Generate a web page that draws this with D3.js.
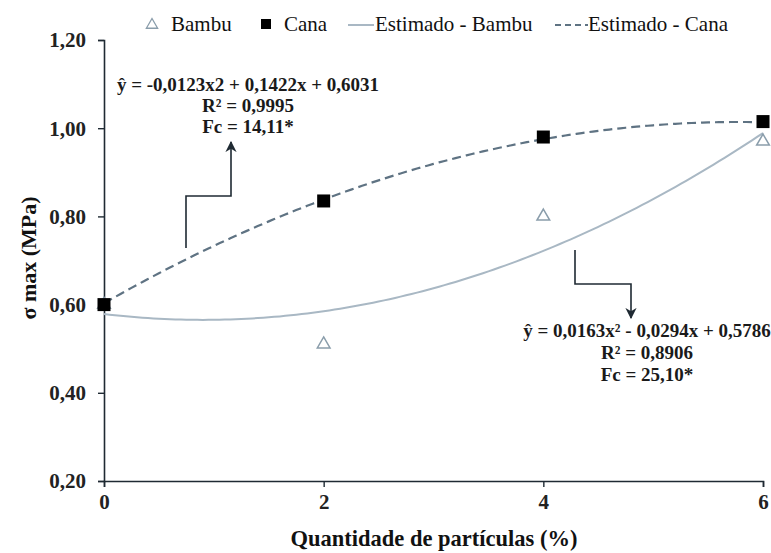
<!DOCTYPE html>
<html>
<head>
<meta charset="utf-8">
<script src="https://cdn.jsdelivr.net/npm/d3@7"></script>
<style>
  html, body { margin: 0; padding: 0; background: #fff; }
  svg text { font-family: "Liberation Serif", "DejaVu Serif", serif; }
</style>
</head>
<body>
<svg id="chart" width="771" height="553"></svg>
<script>
// Particle content (%) and measured maximum stress (MPa)
const xValues = [0, 2, 4, 6];
const bambuValues = [0.60, 0.51, 0.80, 0.97];
const canaValues = [0.60, 0.835, 0.98, 1.015];

// Quadratic fits: [a, b, c] for y = a·x² + b·x + c
const bambuFit = [0.0163, -0.0294, 0.5786];
const canaFit = [-0.0123, 0.1422, 0.6031];

const xTicks = [0, 2, 4, 6];
const yTicks = [0.20, 0.40, 0.60, 0.80, 1.00, 1.20];

const bambuEq = ["ŷ = 0,0163x² - 0,0294x + 0,5786", "R² = 0,8906", "Fc = 25,10*"];
const canaEq = ["ŷ = -0,0123x2 + 0,1422x + 0,6031", "R² = 0,9995", "Fc = 14,11*"];

const SERIF = "Liberation Serif";
const svg = d3.select("#chart");

const x = d3.scaleLinear().domain([0, 6]).range([104, 763]);
const y = d3.scaleLinear().domain([0.2, 1.2]).range([481, 40]);

const fmt = d => d.toFixed(2).replace(".", ",");
const axisColor = "#1f2a33";

// Axes
const gx = svg.append("g").attr("transform", `translate(0,${y(0.2)})`)
  .call(d3.axisBottom(x).tickValues(xTicks).tickSize(6).tickPadding(7).tickFormat(d => d));
const gy = svg.append("g").attr("transform", `translate(${x(0)},0)`)
  .call(d3.axisLeft(y).tickValues(yTicks).tickSize(6).tickPadding(12).tickFormat(fmt));
[gx, gy].forEach(g => {
  g.attr("font-family", SERIF);
  g.select(".domain").attr("stroke", axisColor).attr("stroke-width", 1.6);
  g.selectAll(".tick line").attr("stroke", axisColor).attr("stroke-width", 1.4);
  g.selectAll(".tick text").attr("fill", "#222").attr("font-family", SERIF)
    .attr("font-size", 21).attr("font-weight", "bold");
});
gy.selectAll(".tick text").attr("dy", "0.33em");

// Axis titles
svg.append("text").attr("x", 434).attr("y", 546).attr("text-anchor", "middle")
  .attr("font-family", SERIF).attr("font-size", 22.5).attr("font-weight", "bold").attr("fill", "#111")
  .text("Quantidade de partículas (%)");
svg.append("text").attr("transform", "translate(36,258) rotate(-90)").attr("text-anchor", "middle")
  .attr("font-family", SERIF).attr("font-size", 22).attr("font-weight", "bold").attr("fill", "#111")
  .text("σ max (MPa)");

// Fitted curves
const evalFit = (c, t) => c[0] * t * t + c[1] * t + c[2];
const samples = d3.range(0, 6.0001, 0.05);
const line = d3.line().x(d => x(d[0])).y(d => y(d[1]));

svg.append("path").datum(samples.map(t => [t, evalFit(bambuFit, t)]))
  .attr("d", line).attr("fill", "none").attr("stroke", "#a9b8c4").attr("stroke-width", 2);
svg.append("path").datum(samples.map(t => [t, evalFit(canaFit, t)]))
  .attr("d", line).attr("fill", "none").attr("stroke", "#5f7383").attr("stroke-width", 2.2)
  .attr("stroke-dasharray", "9,5");

// Markers
const tri = d3.symbol().type(d3.symbolTriangle).size(70);
svg.append("g").selectAll("path").data(xValues.map((v, i) => [v, bambuValues[i]])).join("path")
  .attr("d", tri).attr("transform", d => `translate(${x(d[0])},${y(d[1])})`)
  .attr("fill", "none").attr("stroke", "#8a9dab").attr("stroke-width", 1.5);
svg.append("g").selectAll("rect").data(xValues.map((v, i) => [v, canaValues[i]])).join("rect")
  .attr("x", d => x(d[0]) - 6.5).attr("y", d => y(d[1]) - 6.5).attr("width", 13).attr("height", 13)
  .attr("fill", "#000");

// Legend
const lg = svg.append("g").attr("font-family", SERIF).attr("font-size", 21).attr("fill", "#111");
lg.append("path").attr("d", d3.symbol().type(d3.symbolTriangle).size(55)()).attr("transform", "translate(152,25)")
  .attr("fill", "none").attr("stroke", "#8a9dab").attr("stroke-width", 1.3);
lg.append("text").attr("x", 171).attr("y", 31).text("Bambu");
lg.append("rect").attr("x", 261).attr("y", 19).attr("width", 10).attr("height", 10).attr("fill", "#000");
lg.append("text").attr("x", 284).attr("y", 31).text("Cana");
lg.append("line").attr("x1", 348).attr("x2", 374).attr("y1", 25).attr("y2", 25)
  .attr("stroke", "#a9b8c4").attr("stroke-width", 2);
lg.append("text").attr("x", 375).attr("y", 31).text("Estimado - Bambu");
lg.append("line").attr("x1", 555).attr("x2", 588).attr("y1", 25).attr("y2", 25)
  .attr("stroke", "#5f7383").attr("stroke-width", 2).attr("stroke-dasharray", "6,4");
lg.append("text").attr("x", 588).attr("y", 31).text("Estimado - Cana");

// Equation annotations
function eqBlock(lines, cx, y0, dy) {
  const t = svg.append("g").attr("font-family", SERIF).attr("font-size", 19).attr("font-weight", "bold")
    .attr("fill", "#1a1a1a").attr("text-anchor", "middle");
  lines.forEach((s, i) => t.append("text").attr("x", cx).attr("y", y0 + i * dy).text(s));
}
eqBlock(canaEq, 248, 91, 21);
eqBlock(bambuEq, 647, 337, 22);

// Arrow markers
const defs = svg.append("defs");
defs.append("marker").attr("id", "arrow").attr("viewBox", "0 0 10 10").attr("refX", 9).attr("refY", 5)
  .attr("markerWidth", 7).attr("markerHeight", 7).attr("orient", "auto-start-reverse")
  .append("path").attr("d", "M0,0 L10,5 L0,10 L3,5 Z").attr("fill", "#1f2a33");

svg.append("path").attr("d", "M186,248 L186,196 L231,196 L231,142")
  .attr("fill", "none").attr("stroke", "#1f2a33").attr("stroke-width", 1.6).attr("marker-end", "url(#arrow)");
svg.append("path").attr("d", "M575,250 L575,284 L631,284 L631,318")
  .attr("fill", "none").attr("stroke", "#1f2a33").attr("stroke-width", 1.6).attr("marker-end", "url(#arrow)");
</script>
</body>
</html>
